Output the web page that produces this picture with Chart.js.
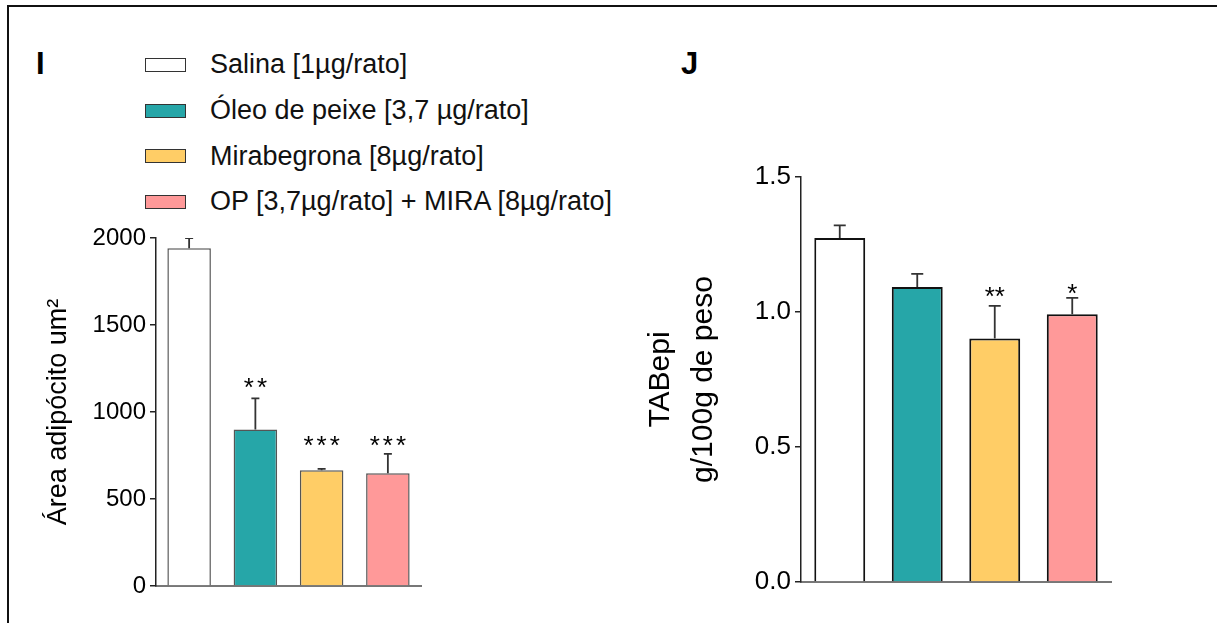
<!DOCTYPE html>
<html>
<head>
<meta charset="utf-8">
<script src="https://cdn.jsdelivr.net/npm/chart.js@4.4.1/dist/chart.umd.min.js"></script>
<style>
    body { margin: 0; background: #fff; width: 1217px; height: 623px; overflow: hidden; position: relative; font-family: "Liberation Sans", Arial, sans-serif; }
    .marco { position: absolute; left: 7px; top: 5px; width: 1300px; height: 700px; border-top: 2px solid #111; border-left: 2px solid #111; }
    .letra { position: absolute; font-weight: bold; font-size: 31px; color: #000; }
    #leyenda { position: absolute; left: 145px; top: 42px; }
    .item { height: 45.7px; display: flex; align-items: center; font-size: 27px; color: #111; }
    .caja { width: 39px; height: 12px; border: 1.5px solid #333; margin-right: 24px; }
    canvas { position: absolute; top: 0; }
</style>
</head>
<body>
<div class="marco"></div>
<div class="letra" style="left:36px; top:46px;">I</div>
<div class="letra" style="left:681px; top:46px;">J</div>
<div id="leyenda"></div>
<canvas id="graficoI" width="440" height="623" style="left:0px;"></canvas>
<canvas id="graficoJ" width="597" height="623" style="left:620px;"></canvas>

<script>
// Grupos y colores
const grupos = ['Salina [1µg/rato]', 'Óleo de peixe [3,7 µg/rato]', 'Mirabegrona [8µg/rato]', 'OP [3,7µg/rato] + MIRA [8µg/rato]'];
const colores = ['#FFFFFF', '#26A6A8', '#FFCD66', '#FF9999'];

// Panel I: área del adipocito (media y media + error)
const areaMedia = [1941, 899, 665, 648];
const areaError = [2000, 1078, 673, 759];
const areaSignif = ['', '**', '***', '***'];
const areaSignifNivel = [0, 1176, 845, 845];
const areaTicks = [0, 500, 1000, 1500, 2000];

// Panel J: TABepi g/100g de peso
const tabMedia = [1.274, 1.093, 0.902, 0.992];
const tabError = [1.321, 1.141, 1.023, 1.052];
const tabSignif = ['', '', '**', '*'];
const tabSignifNivel = [0, 0, 1.081, 1.093];
const tabTicks = [0, 0.5, 1.0, 1.5];

// Leyenda
const leyenda = document.getElementById('leyenda');
grupos.forEach((g, i) => {
    leyenda.innerHTML += `<div class="item"><span class="caja" style="background:${colores[i]}"></span>${g}</div>`;
});

// Barras de error y asteriscos
const barrasError = {
    id: 'barrasError',
    afterDatasetsDraw(chart, args, opts) {
        const { ctx, chartArea } = chart;
        const y = chart.scales.y;
        const meta = chart.getDatasetMeta(0);
        ctx.save();
        ctx.beginPath();
        ctx.rect(chartArea.left, chartArea.top, chartArea.right - chartArea.left, chartArea.bottom - chartArea.top);
        ctx.clip();
        ctx.strokeStyle = opts.color;
        ctx.lineWidth = opts.width;
        meta.data.forEach((barra, i) => {
            const arriba = y.getPixelForValue(opts.superior[i]);
            ctx.beginPath();
            ctx.moveTo(barra.x, barra.y);
            ctx.lineTo(barra.x, arriba);
            ctx.moveTo(barra.x - opts.tapa / 2, arriba);
            ctx.lineTo(barra.x + opts.tapa / 2, arriba);
            ctx.stroke();
        });
        ctx.restore();

        ctx.save();
        ctx.fillStyle = '#000';
        ctx.font = `${opts.tamano}px "Liberation Sans", Arial`;
        ctx.letterSpacing = opts.espacio + 'px';
        ctx.textAlign = 'center';
        ctx.textBaseline = 'alphabetic';
        meta.data.forEach((barra, i) => {
            if (!opts.texto[i]) return;
            const yc = y.getPixelForValue(opts.nivel[i]);
            ctx.fillText(opts.texto[i], barra.x + opts.espacio / 2, yc + 0.57 * opts.tamano);
        });
        ctx.restore();
    }
};

function crearGrafico(id, cfg) {
    new Chart(document.getElementById(id), {
        type: 'bar',
        data: {
            labels: grupos,
            datasets: [{
                data: cfg.valores,
                backgroundColor: colores,
                borderColor: cfg.borde,
                borderWidth: cfg.bordeAncho,
                borderSkipped: 'bottom',
                categoryPercentage: 1.0,
                barPercentage: 0.657
            }]
        },
        options: {
            responsive: false,
            animation: false,
            devicePixelRatio: 1,
            layout: { padding: cfg.padding },
            plugins: {
                legend: { display: false },
                tooltip: { enabled: false },
                barrasError: {
                    superior: cfg.error,
                    texto: cfg.signif,
                    nivel: cfg.nivel,
                    tamano: cfg.tamanoSignif,
                    espacio: cfg.espacioSignif,
                    color: '#333',
                    width: 1.8,
                    tapa: cfg.tapa
                }
            },
            scales: {
                x: {
                    ticks: { display: false },
                    grid: { display: false },
                    border: { display: true, color: '#777', width: 2 },
                    afterFit: s => { s.height = 0; }
                },
                y: {
                    min: 0,
                    max: cfg.ticks[cfg.ticks.length - 1],
                    afterBuildTicks: s => { s.ticks = cfg.ticks.map(v => ({ value: v })); },
                    afterFit: s => { s.width = cfg.anchoEje; },
                    ticks: {
                        color: '#000',
                        padding: 4,
                        font: { size: cfg.tamanoTicks, family: '"Liberation Sans", Arial' },
                        callback: cfg.formato
                    },
                    grid: { drawOnChartArea: false, drawTicks: true, tickLength: 6, color: '#222', lineWidth: 1.5 },
                    border: { display: true, color: '#222', width: 1.5 },
                    title: {
                        display: true,
                        text: cfg.titulo,
                        color: '#000',
                        font: { size: cfg.tamanoTitulo, family: '"Liberation Sans", Arial', lineHeight: cfg.interlinea },
                        padding: { top: cfg.tituloPad, bottom: 0 }
                    }
                }
            }
        },
        plugins: [barrasError]
    });
}

crearGrafico('graficoI', {
    valores: areaMedia,
    error: areaError,
    signif: areaSignif,
    nivel: areaSignifNivel,
    ticks: areaTicks,
    formato: v => String(v),
    titulo: 'Área adipócito um²',
    tamanoTitulo: 27,
    interlinea: 1.2,
    tituloPad: 42,
    tamanoTicks: 24,
    tamanoSignif: 26,
    espacioSignif: 3,
    anchoEje: 156,
    padding: { top: 238, bottom: 37, left: 0, right: 19 },
    borde: '#555',
    bordeAncho: 1.5,
    tapa: 8
});

crearGrafico('graficoJ', {
    valores: tabMedia,
    error: tabError,
    signif: tabSignif,
    nivel: tabSignifNivel,
    ticks: tabTicks,
    formato: v => v.toFixed(1),
    titulo: ['TABepi', 'g/100g de peso'],
    tamanoTitulo: 30,
    interlinea: '43px',
    tituloPad: 19,
    tamanoTicks: 26,
    tamanoSignif: 26,
    espacioSignif: 0,
    anchoEje: 181,
    padding: { top: 177, bottom: 41, left: 0, right: 106 },
    borde: '#111',
    bordeAncho: 2,
    tapa: 12
});
</script>
</body>
</html>
